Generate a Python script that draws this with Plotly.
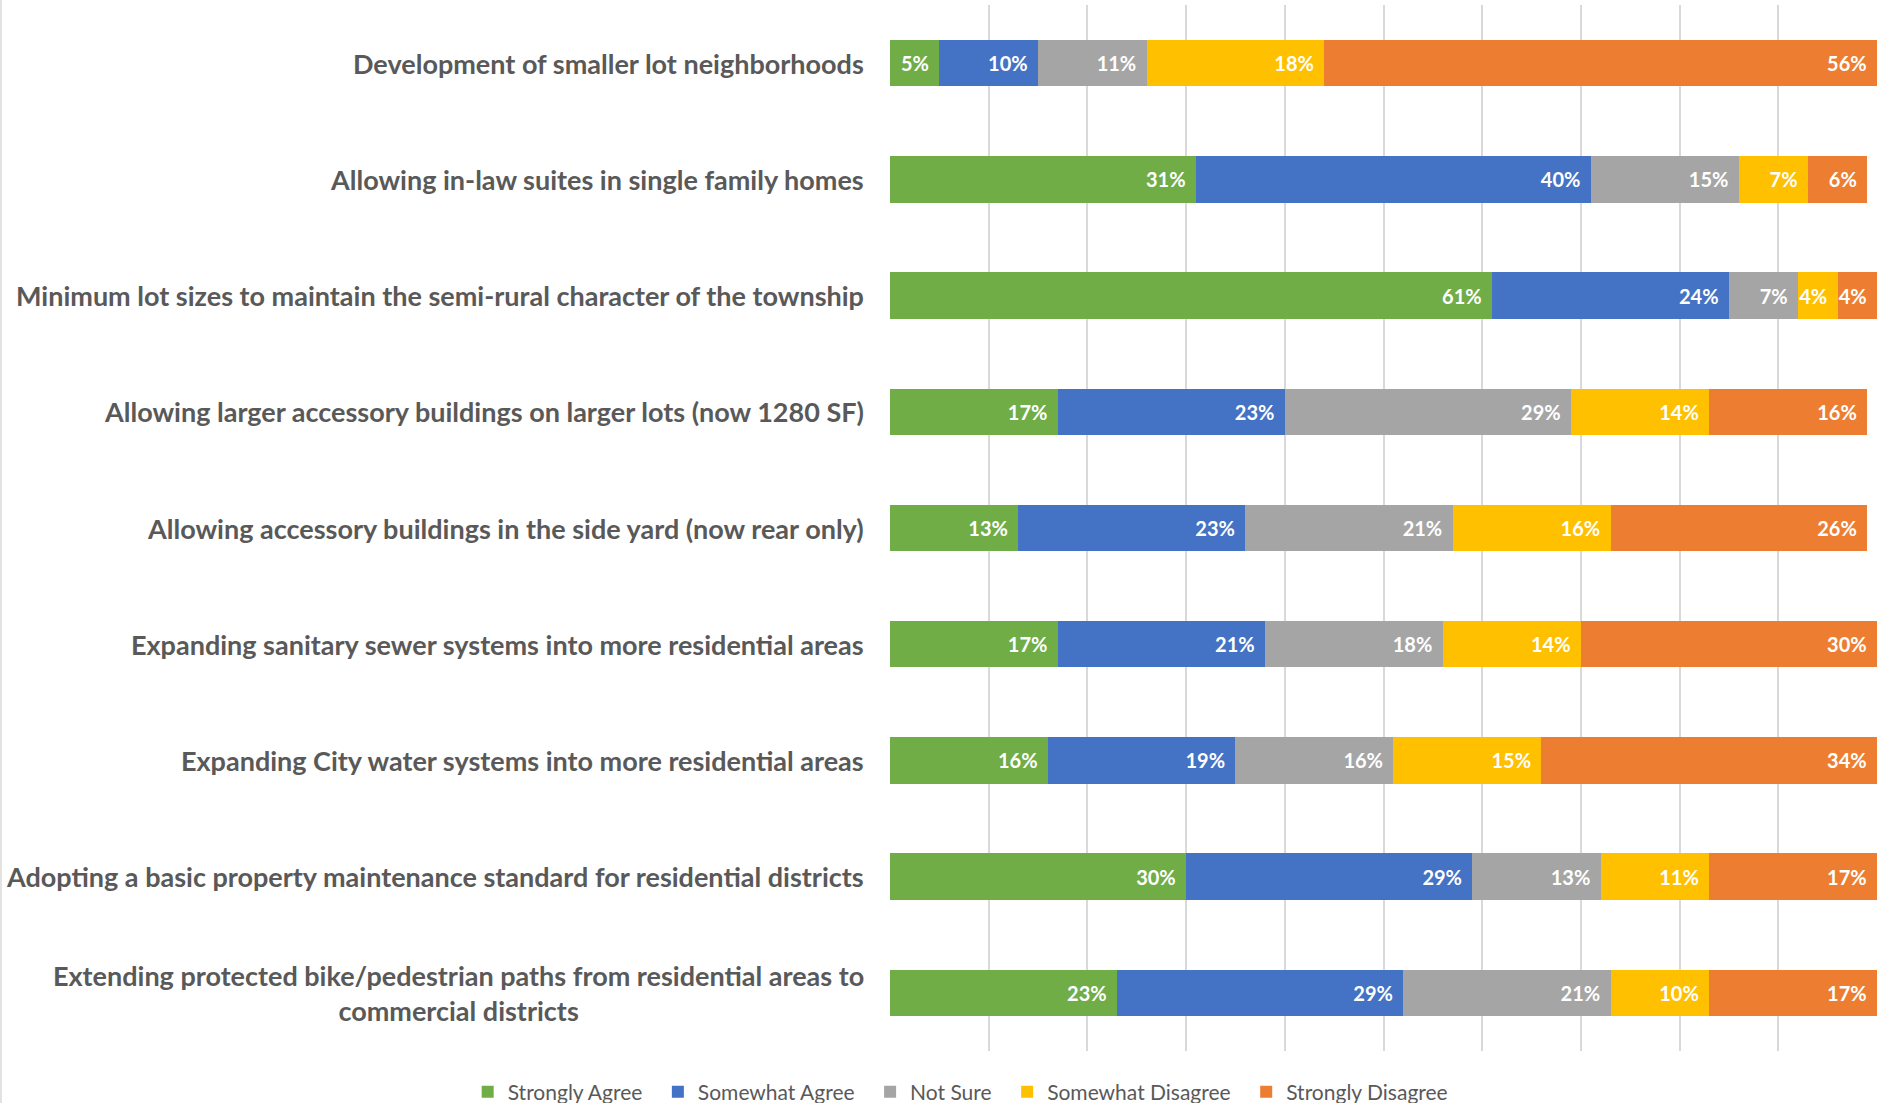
import plotly.graph_objects as go

categories = [
    "Development of smaller lot neighborhoods",
    "Allowing in-law suites in single family homes",
    "Minimum lot sizes to maintain the semi-rural character of the township",
    "Allowing larger accessory buildings on larger lots (now 1280 SF)",
    "Allowing accessory buildings in the side yard (now rear only)",
    "Expanding sanitary sewer systems into more residential areas",
    "Expanding City water systems into more residential areas",
    "Adopting a basic property maintenance standard for residential districts",
    "Extending protected bike/pedestrian paths from residential areas to<br>commercial districts",
]
series_names = ["Strongly Agree", "Somewhat Agree", "Not Sure", "Somewhat Disagree", "Strongly Disagree"]
strongly_agree = [5, 31, 61, 17, 13, 17, 16, 30, 23]
somewhat_agree = [10, 40, 24, 23, 23, 21, 19, 29, 29]
not_sure = [11, 15, 7, 29, 21, 18, 16, 13, 21]
somewhat_disagree = [18, 7, 4, 14, 16, 14, 15, 11, 10]
strongly_disagree = [56, 6, 4, 16, 26, 30, 34, 17, 17]
colors = ["#70AD47", "#4472C4", "#A5A5A5", "#FFC000", "#ED7D31"]

W, H = 1880, 1103
ML, MR, MT, MB = 890, 3, 5, 52
FONT = "Lato"

fig = go.Figure()
all_series = [strongly_agree, somewhat_agree, not_sure, somewhat_disagree, strongly_disagree]
for i, (name, vals, col) in enumerate(zip(series_names, all_series, colors)):
    legend_name = name + ("\u2002" if i < len(series_names) - 1 else "")
    fig.add_trace(go.Bar(
        y=categories, x=vals, name=legend_name, orientation="h",
        marker=dict(color=col, line=dict(width=0)),
        text=[f"{v}%\u00a0\u2009" for v in vals], textposition="inside", insidetextanchor="end",
        textangle=0, constraintext="none",
        textfont=dict(family=FONT, size=20, color="white", weight="bold"),
        hoverinfo="skip",
    ))

for c in categories:
    fig.add_annotation(x=0, xref="paper", xanchor="right", xshift=-24,
                       y=c, yref="y", text=c, showarrow=False, align="center",
                       font=dict(family=FONT, size=27, color="#595959", weight="bold"))

pw = W - ML - MR
fig.add_shape(type="line", xref="paper", yref="paper",
              x0=-(ML - 1) / pw, x1=-(ML - 1) / pw, y0=-MB / (H - MT - MB), y1=1 + MT / (H - MT - MB),
              line=dict(color="#D9D9D9", width=1.5))

fig.update_layout(
    width=W, height=H,
    margin=dict(l=ML, r=MR, t=MT, b=MB),
    paper_bgcolor="white", plot_bgcolor="white",
    barmode="stack", bargap=0.6,
    showlegend=True,
    legend=dict(orientation="h", xref="container", yref="container",
                x=0.511, xanchor="center", y=1 - 1092 / H, yanchor="middle",
                font=dict(family=FONT, size=21, color="#595959"),
                traceorder="normal", itemwidth=30),
    xaxis=dict(range=[0, 100], dtick=10, tick0=0, showgrid=True, gridcolor="#D9D9D9",
               gridwidth=1.5, showticklabels=False, zeroline=False, showline=False, fixedrange=True),
    yaxis=dict(autorange="reversed", showticklabels=False, showgrid=False, zeroline=False,
               showline=False, fixedrange=True),
)

fig.write_html("out.html", config={"displayModeBar": False},
               post_script="document.body.style.margin='0';document.body.style.overflow='hidden';")
